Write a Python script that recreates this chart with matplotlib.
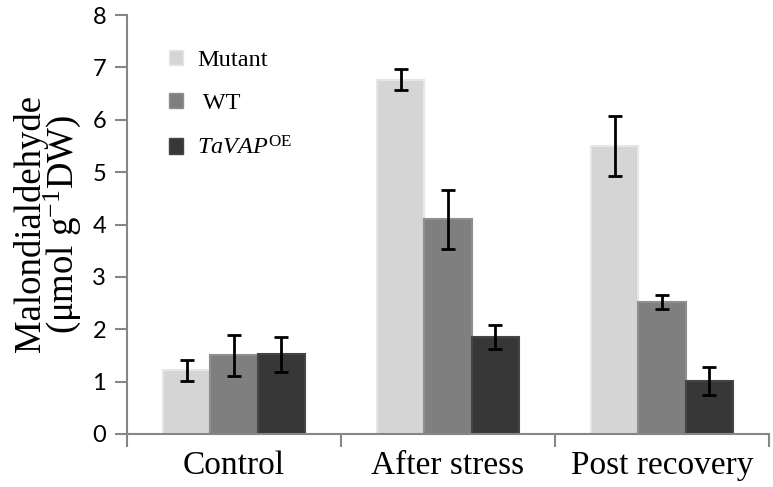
import matplotlib
matplotlib.use("Agg")
import matplotlib.pyplot as plt
import numpy as np
from matplotlib.patches import Patch

categories = ["Control", "After stress", "Post recovery"]
series = ["Mutant", " WT", r"$\mathit{TaVAP}^{\mathrm{OE}}$"]
mutant = [1.22, 6.76, 5.50]
wt = [1.50, 4.10, 2.52]
tavap = [1.52, 1.85, 1.01]
mutant_err = [0.20, 0.20, 0.58]
wt_err = [0.39, 0.56, 0.14]
tavap_err = [0.33, 0.23, 0.27]
yticks = [0, 1, 2, 3, 4, 5, 6, 7, 8]

colors = ["#d5d5d5", "#7f7f7f", "#373737"]
edges = ["#e6e6e6", "#8f8f8f", "#454545"]

plt.rcParams['mathtext.fontset'] = 'custom'
plt.rcParams['mathtext.rm'] = 'Liberation Serif'
plt.rcParams['mathtext.it'] = 'Liberation Serif:italic'

fig = plt.figure(figsize=(7.73, 4.87), dpi=100)
ax = fig.add_axes([127/773, 1-434/487, (769-127)/773, (434-15)/487])

x = np.arange(len(categories))
w = 0.22
data = [mutant, wt, tavap]
errs = [mutant_err, wt_err, tavap_err]
handles = []
for i, (vals, e) in enumerate(zip(data, errs)):
    pos = x + (i - 1) * w
    ax.bar(pos, vals, width=w, color=colors[i], edgecolor=edges[i], linewidth=1.5, zorder=2)
    ax.errorbar(pos, vals, yerr=e, fmt='none', ecolor='black', elinewidth=2,
                capsize=5, capthick=2, zorder=3)
    handles.append(Patch(facecolor=colors[i], edgecolor=edges[i]))

ax.set_xlim(-0.5, 2.5)
ax.set_ylim(0, 8)
ax.set_yticks(yticks)
ax.set_yticklabels([str(t) for t in yticks], fontname='Lato', fontsize=17)
ax.set_xticks(x)
ax.set_xticklabels(categories, fontname='Liberation Serif', fontsize=24)
ax.set_xticks([-0.5, 0.5, 1.5, 2.5], minor=True)
ax.tick_params(axis='x', which='major', length=0, pad=12)
ax.tick_params(axis='x', which='minor', length=9, width=1.5, color='#868686', direction='out')
ax.tick_params(axis='y', length=9, width=1.5, color='#868686', direction='out', pad=6)

for s in ['top', 'right']:
    ax.spines[s].set_visible(False)
for s in ['left', 'bottom']:
    ax.spines[s].set_color('#868686')
    ax.spines[s].set_linewidth(1.5)

fig.text(48/773, 1-224/487, "Malondialdehyde\n" + r"(μmol g$^{\mathrm{-1}}$DW)",
         rotation=90, ha='center', va='center', multialignment='center',
         fontname='Liberation Serif', fontsize=26.5, linespacing=0.8)

leg = ax.legend(handles, series, loc='upper left', bbox_to_anchor=(147/773, 1-28/487),
                bbox_transform=fig.transFigure, frameon=False,
                prop={'family': 'Liberation Serif', 'size': 17.5},
                handlelength=0.6, handleheight=0.6, labelspacing=0.9, handletextpad=0.55)

fig.savefig("out.png", dpi=100)
